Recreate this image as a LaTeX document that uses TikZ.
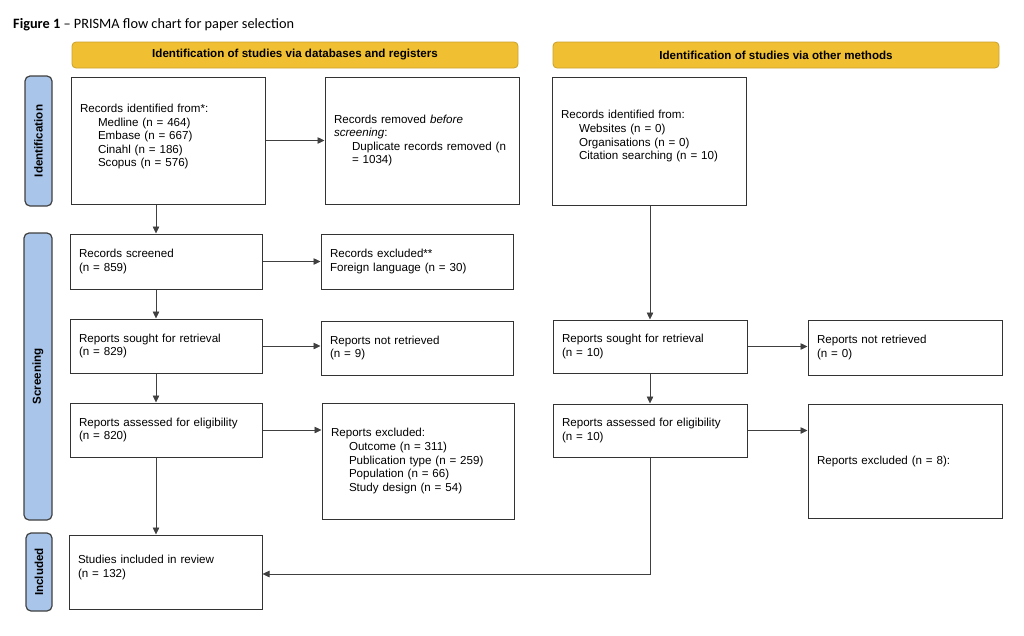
\documentclass[tikz,border=0pt]{standalone}
\usepackage[dvipsnames,svgnames]{xcolor}
\usepackage{fontspec}
\setmainfont{Liberation Sans}
\newfontfamily\captionfont{Carlito}
\usetikzlibrary{arrows.meta}

\definecolor{headyellow}{HTML}{F0C032}
\definecolor{headedge}{HTML}{C9A02C}
\definecolor{sideblue}{HTML}{A9C5EA}

\tikzset{
  box/.style={draw=black!80, line width=1pt, rectangle, align=left,
    inner xsep=9pt, inner ysep=2pt, font=\fontsize{11.6}{13.6}\selectfont},
  head/.style={draw=headedge, fill=headyellow, line width=0.8pt,
    rounded corners=4pt, inner sep=0pt, font=\bfseries\fontsize{11.6}{13}\selectfont},
  side/.style={draw=black!75, fill=sideblue, line width=1.2pt, rotate=90,
    rounded corners=5pt, inner sep=0pt, font=\bfseries\fontsize{11.6}{13}\selectfont},
  arr/.style={-{Triangle[length=7pt,width=6.5pt]}, line width=0.7pt, draw=black!75}
}

\begin{document}
\begin{tikzpicture}[x=1pt,y=-1pt]
  \useasboundingbox (0,0) rectangle (1024,635);

  % caption
  \node[anchor=west, inner sep=0pt, font=\captionfont\fontsize{14.3}{16}\selectfont]
    (caption) at (13,25) {\textbf{Figure 1} \textendash{} PRISMA flow chart for paper selection};

  % column heads
  \node[head, minimum width=446pt, minimum height=26pt] (dbhead) at (295,55)
    {Identification of studies via databases and registers};
  \node[head, minimum width=446pt, minimum height=26pt] (othhead) at (776,55)
    {Identification of studies via other methods};

  % phase labels
  \node[side, minimum width=130pt, minimum height=27pt] (idside) at (38.5,141) {Identification};
  \node[side, minimum width=287pt, minimum height=28pt] (scrside) at (38,376.5) {Screening};
  \node[side, minimum width=78pt, minimum height=26pt] (incside) at (39,572) {Included};

  % databases and registers
  \node[box, text width=176pt, minimum height=127pt] (idrec) at (168,140.5)
    {Records identified from*:\\
     \hspace*{18pt}Medline (n = 464)\\
     \hspace*{18pt}Embase (n = 667)\\
     \hspace*{18pt}Cinahl (n = 186)\\
     \hspace*{18pt}Scopus (n = 576)\\[-3.6pt]\mbox{}};
  \node[box, text width=176pt, minimum height=127pt] (removed) at (422,140.5)
    {Records removed \textit{before}\\
     \textit{screening}:\\
     \hspace*{18pt}Duplicate records removed (n\\
     \hspace*{18pt}= 1034)};
  \node[box, text width=174pt, minimum height=55pt] (screened) at (166,261.5)
    {Records screened\\(n = 859)};
  \node[box, text width=174pt, minimum height=55pt] (excl) at (417,261.5)
    {Records excluded**\\Foreign language (n = 30)};
  \node[box, text width=174pt, minimum height=54pt] (sought) at (166,346)
    {Reports sought for retrieval\\(n = 829)};
  \node[box, text width=174pt, minimum height=54pt] (notret) at (417,348)
    {Reports not retrieved\\(n = 9)};
  \node[box, text width=174pt, minimum height=54pt] (assessed) at (166,430)
    {Reports assessed for eligibility\\(n = 820)};
  \node[box, text width=174pt, minimum height=116pt] (repexcl) at (418,461)
    {Reports excluded:\\
     \hspace*{18pt}Outcome (n = 311)\\
     \hspace*{18pt}Publication type (n = 259)\\
     \hspace*{18pt}Population (n = 66)\\
     \hspace*{18pt}Study design (n = 54)};
  \node[box, text width=175pt, minimum height=74pt] (incl) at (165.5,572)
    {Studies included in review\\(n = 132)\\[-1.6pt]\mbox{}};

  % other methods
  \node[box, text width=176pt, minimum height=128pt] (othid) at (649,141)
    {Records identified from:\\
     \hspace*{18pt}Websites (n = 0)\\
     \hspace*{18pt}Organisations (n = 0)\\
     \hspace*{18pt}Citation searching (n = 10)\\[-1.6pt]\mbox{}};
  \node[box, text width=176pt, minimum height=53pt] (sought2) at (650,346.5)
    {Reports sought for retrieval\\(n = 10)};
  \node[box, text width=176pt, minimum height=55pt] (notret2) at (905,347.5)
    {Reports not retrieved\\(n = 0)};
  \node[box, text width=176pt, minimum height=53pt] (assessed2) at (650,430.5)
    {Reports assessed for eligibility\\(n = 10)};
  \node[box, text width=176pt, minimum height=114pt] (repexcl2) at (905,461)
    {Reports excluded (n = 8):};

  % connectors
  \coordinate (leftx) at (156,0);
  \draw[arr] (idrec) -- (removed);
  \draw[arr] (idrec.south -| leftx) -- (screened.north -| leftx);
  \draw[arr] (screened) -- (excl);
  \draw[arr] (screened.south -| leftx) -- (sought.north -| leftx);
  \draw[arr] (sought.east) -- (sought.east -| notret.west);
  \draw[arr] (sought.south -| leftx) -- (assessed.north -| leftx);
  \draw[arr] (assessed.east) -- (assessed.east -| repexcl.west);
  \draw[arr] (assessed.south -| leftx) -- (incl.north -| leftx);
  \draw[arr] (othid.south -| sought2.north) -- (sought2.north);
  \draw[arr] (sought2.east) -- (sought2.east -| notret2.west);
  \draw[arr] (sought2) -- (assessed2);
  \draw[arr] (assessed2.east) -- (assessed2.east -| repexcl2.west);
  \draw[arr] (assessed2.south) |- ([yshift=-2pt]incl.east);
\end{tikzpicture}
\end{document}
